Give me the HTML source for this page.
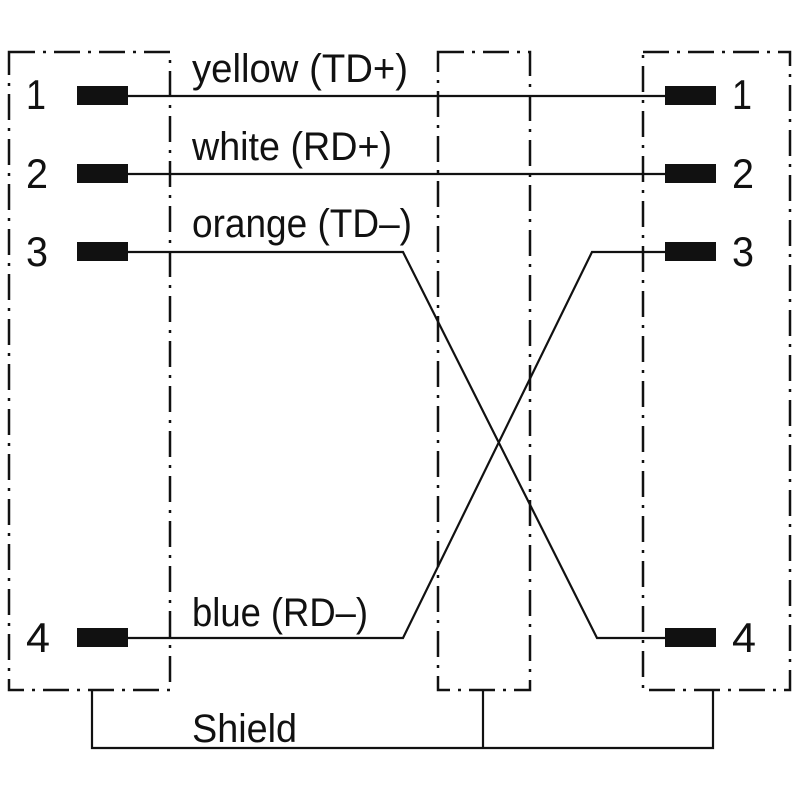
<!DOCTYPE html>
<html><head><style>html,body{margin:0;padding:0;background:#fff}</style></head>
<body>
<svg width="800" height="800" viewBox="0 0 800 800" xmlns="http://www.w3.org/2000/svg">
<g fill="none" stroke="#111" stroke-width="2.5" stroke-dasharray="26 8 3 8">
<rect x="9" y="52" width="161" height="638"/>
<rect x="438" y="52" width="92" height="638"/>
<rect x="643" y="52" width="147" height="638"/>
</g>
<g fill="none" stroke="#111" stroke-width="2.2">
<line x1="128" y1="96" x2="665" y2="96"/>
<line x1="128" y1="174" x2="665" y2="174"/>
<polyline points="128,252 403,252 597,638 665,638"/>
<polyline points="128,638 403,638 592,252 665,252"/>
<polyline points="92,690 92,748 713,748 713,690"/>
<line x1="483" y1="690" x2="483" y2="748"/>
</g>
<g fill="#111">
<rect x="77" y="86" width="51" height="19"/>
<rect x="77" y="164" width="51" height="19"/>
<rect x="77" y="242" width="51" height="19"/>
<rect x="77" y="628" width="51" height="19"/>
<rect x="665" y="86" width="51" height="19"/>
<rect x="665" y="164" width="51" height="19"/>
<rect x="665" y="242" width="51" height="19"/>
<rect x="665" y="628" width="51" height="19"/>
</g>
<g font-family="Liberation Sans, sans-serif" font-size="42" fill="#111">
<text x="26" y="109" textLength="20" lengthAdjust="spacingAndGlyphs">1</text>
<text x="26" y="188" textLength="22" lengthAdjust="spacingAndGlyphs">2</text>
<text x="26" y="266" textLength="22" lengthAdjust="spacingAndGlyphs">3</text>
<text x="26" y="652" textLength="24" lengthAdjust="spacingAndGlyphs">4</text>
<text x="732" y="109" textLength="20" lengthAdjust="spacingAndGlyphs">1</text>
<text x="732" y="188" textLength="22" lengthAdjust="spacingAndGlyphs">2</text>
<text x="732" y="266" textLength="22" lengthAdjust="spacingAndGlyphs">3</text>
<text x="732" y="652" textLength="24" lengthAdjust="spacingAndGlyphs">4</text>
</g>
<g font-family="Liberation Sans, sans-serif" font-size="40" fill="#111">
<text x="192" y="82" textLength="216" lengthAdjust="spacingAndGlyphs">yellow (TD+)</text>
<text x="192" y="160" textLength="200" lengthAdjust="spacingAndGlyphs">white (RD+)</text>
<text x="192" y="237" textLength="220" lengthAdjust="spacingAndGlyphs">orange (TD–)</text>
<text x="192" y="626" textLength="176" lengthAdjust="spacingAndGlyphs">blue (RD–)</text>
<text x="192" y="742" textLength="105" lengthAdjust="spacingAndGlyphs">Shield</text>
</g>
</svg>
</body></html>
